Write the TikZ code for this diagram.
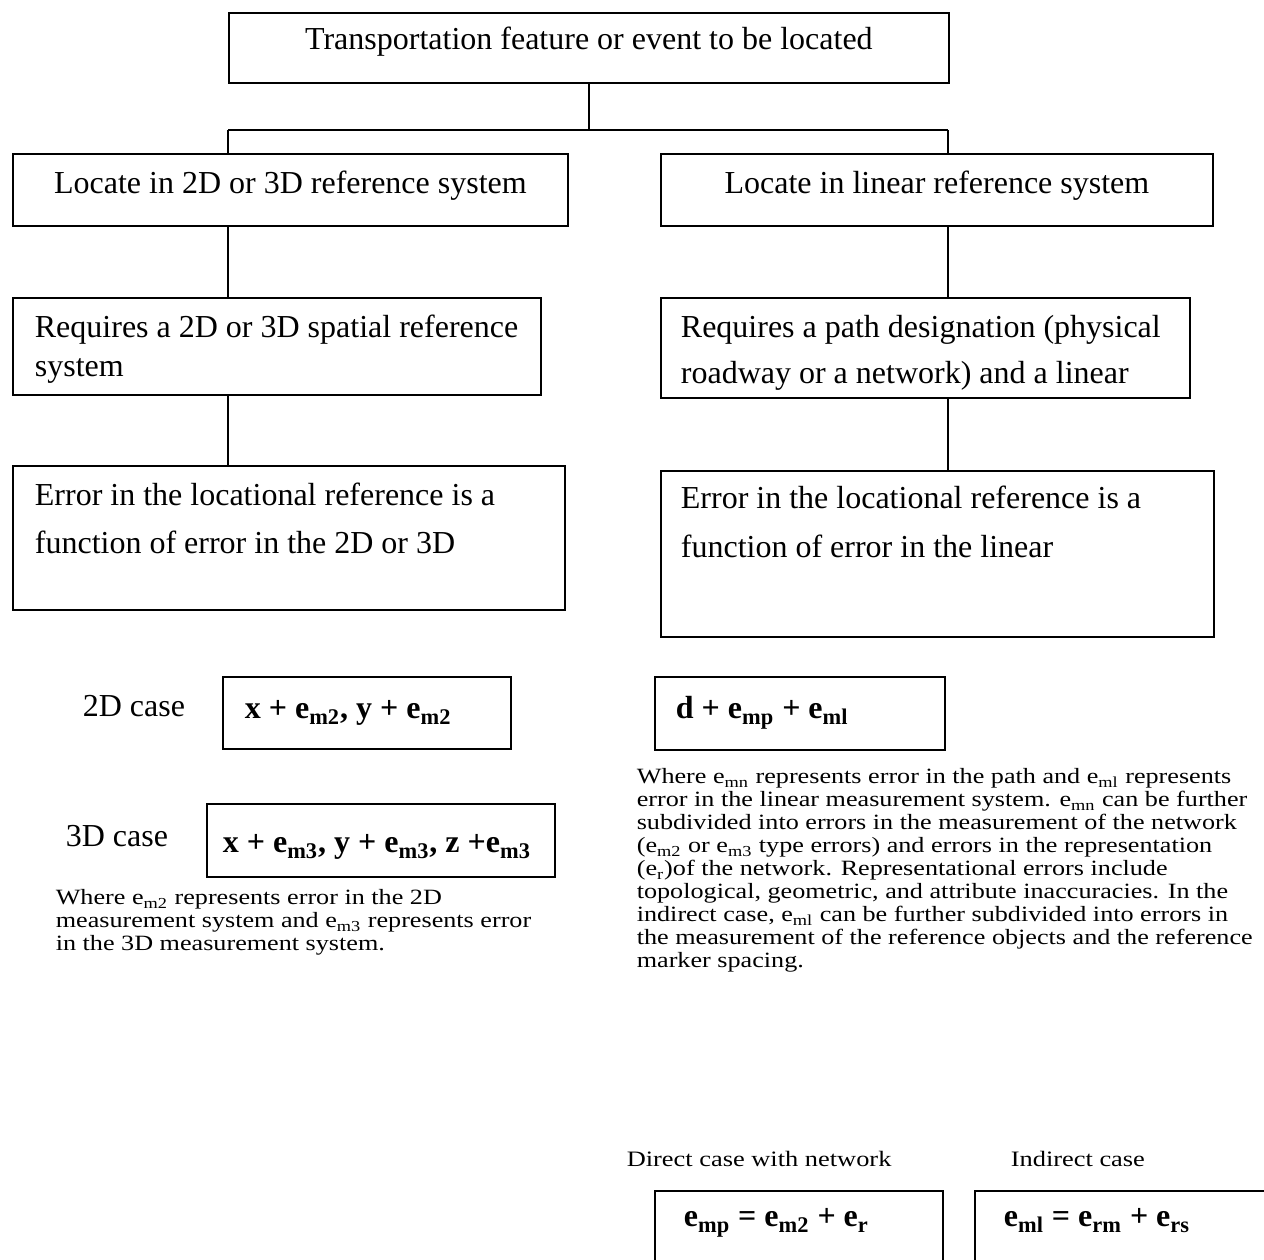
\documentclass[tikz,border=0pt]{standalone}
\usepackage{fontspec}
\setmainfont{Liberation Serif}
\newfontfamily\widefont[FakeStretch=1.2]{Liberation Serif}
\usetikzlibrary{positioning}
\hyphenpenalty=10000

\tikzset{
  fbox/.style={draw, line width=0.9pt, anchor=north west, inner ysep=0pt, inner xsep=0pt},
  mtext/.style={font=\fontsize{16}{19.5}\selectfont},
  ptext/.style={font=\widefont\fontsize{10.9}{11.5}\selectfont, anchor=north west, inner sep=0pt, align=left},
  eqn/.style={font=\fontsize{16}{19}\selectfont\bfseries, align=flush left}
}
\newcommand{\lo}[1]{\textsubscript{#1}}

\begin{document}
\begin{tikzpicture}[x=0.5pt, y=-0.5pt, line width=0.8pt]
  \clip (0,0) rectangle (1264,1259);
  % top of the tree
  \node[fbox, mtext, text width=360pt, align=flush center, text height=18.5pt, text depth=16.5pt] (top) at (228,12)
    {Transportation feature or event to be located};
  \node[fbox, mtext, text width=277.5pt, align=flush center, text height=20pt, text depth=16pt] (l1) at (12,153)
    {Locate in 2D or 3D reference system};
  \node[fbox, mtext, text width=276pt, align=flush center, text height=20pt, text depth=16pt] (r1) at (660,153)
    {Locate in linear reference system};
  % second and third rows
  \node[fbox, mtext, text width=242pt, inner xsep=11pt, align=flush left, text height=20pt, text depth=28.5pt] (l2) at (12,297)
    {Requires a 2D or 3D spatial reference\\system};
  \node[fbox, mtext, text width=244.5pt, inner xsep=10pt, align=flush left, text height=20pt, text depth=30pt,
        font=\fontsize{16}{23}\selectfont] (r2) at (660,297)
    {Requires a path designation (physical\\roadway or a network) and a linear};
  \node[fbox, mtext, text width=254pt, inner xsep=11pt, align=flush left, text height=20pt, text depth=52pt,
        font=\fontsize{16}{24}\selectfont] (l3) at (12,465)
    {Error in the locational reference is a\\function of error in the 2D or 3D};
  \node[fbox, mtext, text width=256.5pt, inner xsep=10pt, align=flush left, text height=19pt, text depth=64pt,
        font=\fontsize{16}{24.5}\selectfont] (r3) at (660,470)
    {Error in the locational reference is a\\function of error in the linear};
  % connectors
  \coordinate (busL) at (228,130);
  \coordinate (busR) at (948,130);
  \draw (top.south) -- (top.south |- busL);
  \draw (busL) -- (busR);
  \draw (busL) -- (busL |- l1.north);
  \draw (busR) -- (busR |- r1.north);
  \draw (busL |- l1.south) -- (busL |- l2.north);
  \draw (busR |- r1.south) -- (busR |- r2.north);
  \draw (busL |- l2.south) -- (busL |- l3.north);
  \draw (busR |- r2.south) -- (busR |- r3.north);
  % measurement cases
  \node[mtext, anchor=base west, inner sep=0pt] (c2) at (82,716) {2D case};
  \node[fbox, eqn, text width=122pt, inner xsep=11pt, text height=21pt, text depth=15pt] (e2) at (222,676)
    {x + e\lo{m2}, y + e\lo{m2}};
  \node[mtext, anchor=base west, inner sep=0pt] (c3) at (65,846) {3D case};
  \node[fbox, eqn, text width=158pt, inner xsep=8pt, text height=24.5pt, text depth=12pt] (e3) at (206,803)
    {\mbox{x + e\lo{m3}, y + e\lo{m3}, z +e\lo{m3}}};
  \node[fbox, eqn, text width=124pt, inner xsep=10.5pt, text height=21pt, text depth=15.5pt] (ed) at (654,676)
    {d + e\lo{mp} + e\lo{ml}};
  \node[ptext] (wl) at (55,889)
    {Where e\lo{m2} represents error in the 2D\\
     measurement system and e\lo{m3} represents error\\
     in the 3D measurement system.};
  \node[ptext] (wr) at (636,768)
    {Where e\lo{mn} represents error in the path and e\lo{ml} represents\\
     error in the linear measurement system. e\lo{mn} can be further\\
     subdivided into errors in the measurement of the network\\
     (e\lo{m2} or e\lo{m3} type errors) and errors in the representation\\
     (e\lo{r})of the network. Representational errors include\\
     topological, geometric, and attribute inaccuracies. In the\\
     indirect case, e\lo{ml} can be further subdivided into errors in\\
     the measurement of the reference objects and the reference\\
     marker spacing.};
  % bottom cases
  \node[ptext, anchor=base west, font=\widefont\fontsize{11}{12}\selectfont] (dc) at (626,1166) {Direct case with network};
  \node[ptext, anchor=base west, font=\widefont\fontsize{11}{12}\selectfont] (ic) at (1010,1166) {Indirect case};
  \node[fbox, eqn, text width=115pt, inner xsep=14.5pt, text height=18pt, text depth=40pt] (ep) at (654,1190)
    {e\lo{mp} = e\lo{m2} + e\lo{r}};
  \node[fbox, eqn, text width=160pt, inner xsep=14.5pt, text height=18pt, text depth=40pt] (el) at (974,1190)
    {e\lo{ml} = e\lo{rm} + e\lo{rs}};
\end{tikzpicture}
\end{document}
